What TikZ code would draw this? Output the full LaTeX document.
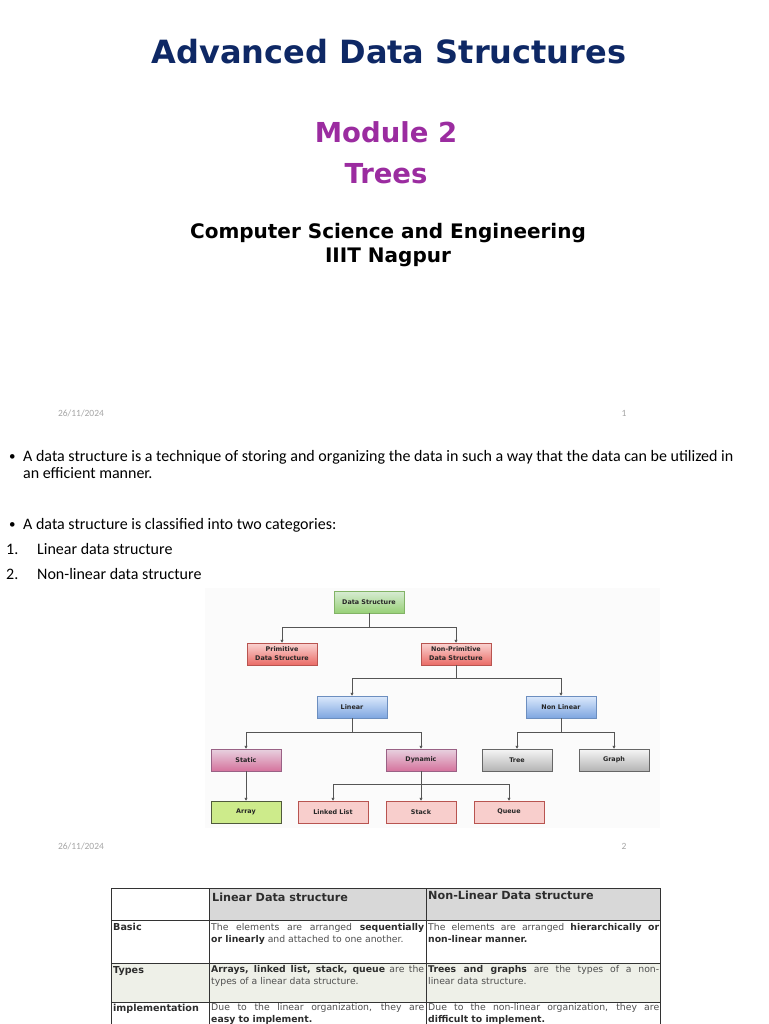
\documentclass[tikz,border=0pt]{standalone}
\usepackage{fontspec}
\setmainfont{Carlito}
\newfontfamily\dejavu{DejaVu Sans}
\usetikzlibrary{arrows.meta,shadows}

\definecolor{navy}{RGB}{14,40,101}
\definecolor{plum}{RGB}{155,44,160}
\definecolor{datefg}{RGB}{165,165,165}
\definecolor{edgefg}{RGB}{85,85,85}
\definecolor{hdrgray}{RGB}{216,216,216}
\definecolor{rowtint}{RGB}{238,240,232}
\definecolor{bodyfg}{RGB}{80,80,80}
\definecolor{boldfg}{RGB}{45,45,45}
% box colours
\definecolor{greenline}{RGB}{130,179,102}
\definecolor{greentop}{RGB}{216,236,212}
\definecolor{greenbot}{RGB}{151,208,119}
\definecolor{redline}{RGB}{184,84,80}
\definecolor{redtop}{RGB}{250,212,210}
\definecolor{redbot}{RGB}{234,107,102}
\definecolor{blueline}{RGB}{108,142,191}
\definecolor{bluetop}{RGB}{220,233,252}
\definecolor{bluebot}{RGB}{126,166,224}
\definecolor{pinkline}{RGB}{153,97,133}
\definecolor{pinktop}{RGB}{232,210,224}
\definecolor{pinkbot}{RGB}{213,115,157}
\definecolor{grayline}{RGB}{102,102,102}
\definecolor{graytop}{RGB}{246,246,246}
\definecolor{graybot}{RGB}{180,180,180}
\definecolor{limeline}{RGB}{80,90,60}
\definecolor{limefill}{RGB}{205,235,139}
\definecolor{salmonfill}{RGB}{248,206,204}

\newcommand{\hl}[1]{\textbf{\color{boldfg}#1}}

\tikzset{
  dsbox/.style={draw=#1, line width=0.5pt, minimum width=70pt, minimum height=22pt,
    inner sep=1pt, align=center, text=black!85,
    font=\dejavu\bfseries\fontsize{6.4}{9}\selectfont,
    drop shadow={shadow xshift=1.2pt, shadow yshift=-1.2pt, opacity=0.25}},
  greenbox/.style={dsbox=greenline, top color=greentop, bottom color=greenbot},
  redbox/.style={dsbox=redline, top color=redtop, bottom color=redbot},
  bluebox/.style={dsbox=blueline, top color=bluetop, bottom color=bluebot},
  pinkbox/.style={dsbox=pinkline, top color=pinktop, bottom color=pinkbot},
  graybox/.style={dsbox=grayline, top color=graytop, bottom color=graybot},
  limebox/.style={dsbox=limeline, fill=limefill},
  salmonbox/.style={dsbox=redline, fill=salmonfill},
  link/.style={draw=edgefg, line width=0.7pt, -{Triangle[length=3pt,width=3pt]}},
  bodytext/.style={anchor=base west, inner sep=0, font=\fontsize{16}{17}\selectfont},
  datetext/.style={inner sep=0, text=datefg, font=\fontsize{9.5}{11}\selectfont},
  cellhead/.style={anchor=base west, inner sep=0, text=boldfg, font=\dejavu\bfseries\fontsize{11.2}{13}\selectfont},
  celllabel/.style={anchor=base west, inner sep=0, text=boldfg, font=\dejavu\bfseries\fontsize{9.6}{12}\selectfont},
  cellbody/.style={anchor=north west, inner sep=0, align=justify, text=bodyfg, font=\dejavu\fontsize{9.3}{12}\selectfont},
  tblline/.style={draw=black!80, line width=0.9pt}
}

\begin{document}
\begin{tikzpicture}[x=1pt, y=-1pt]
\useasboundingbox[fill=white] (0,0) rectangle (768,1024);
\clip (0,0) rectangle (768,1024);

% title slide
\node[anchor=base, inner sep=0, text=navy, font=\dejavu\bfseries\fontsize{32}{38}\selectfont] (title) at (389,64) {Advanced Data Structures};
\node[anchor=base, inner sep=0, text=plum, font=\dejavu\bfseries\fontsize{27.5}{32}\selectfont] (module) at (386,143) {Module 2};
\node[anchor=base, inner sep=0, text=plum, font=\dejavu\bfseries\fontsize{27.5}{32}\selectfont] (trees) at (386,184) {Trees};
\node[anchor=base, inner sep=0, font=\dejavu\bfseries\fontsize{20}{24}\selectfont] (dept) at (388,238) {Computer Science and Engineering};
\node[anchor=base, inner sep=0, font=\dejavu\bfseries\fontsize{20}{24}\selectfont] (inst) at (388,262) {IIIT Nagpur};
\node[datetext] (date1) at (81,413) {26/11/2024};
\node[datetext] (page1) at (624,413) {1};

% second slide: text
\node[bodytext, font=\fontsize{13}{17}\selectfont] (dot1) at (9,460) {•};
\node[bodytext, align=left, anchor=north west] (def) at (23,450) {A data structure is a technique of storing and organizing the data in such a way that the data can be utilized in\\an efficient manner.};
\node[bodytext, font=\fontsize{13}{17}\selectfont] (dot2) at (9,528) {•};
\node[bodytext] (cls) at (23,529) {A data structure is classified into two categories:};
\node[bodytext] (n1) at (6,554) {1.};
\node[bodytext] (lin1) at (37,554) {Linear data structure};
\node[bodytext] (n2) at (6,579) {2.};
\node[bodytext] (lin2) at (37,579) {Non-linear data structure};

% classification diagram
\fill[black!1.5] (205,588) rectangle (660,828);
\node[greenbox] (ds) at (369,602) {Data Structure};
\node[redbox] (prim) at (282,654) {Primitive\\Data Structure};
\node[redbox] (nprim) at (456,654) {Non-Primitive\\Data Structure};
\node[bluebox] (lin) at (352,707) {Linear};
\node[bluebox] (nlin) at (561,707) {Non Linear};
\node[pinkbox] (stat) at (246,760) {Static};
\node[pinkbox] (dyn) at (421,760) {Dynamic};
\node[graybox] (tree) at (517,760) {Tree};
\node[graybox] (graph) at (614,760) {Graph};
\node[limebox] (arr) at (246,812) {Array};
\node[salmonbox] (ll) at (333,812) {Linked List};
\node[salmonbox] (stk) at (421,812) {Stack};
\node[salmonbox] (que) at (509,812) {Queue};

\draw[link] (ds.south) -- ++(0,14) -| (prim.north);
\draw[link] (ds.south) -- ++(0,14) -| (nprim.north);
\draw[link] (nprim.south) -- ++(0,13) -| (lin.north);
\draw[link] (nprim.south) -- ++(0,13) -| (nlin.north);
\draw[link] (lin.south) -- ++(0,14) -| (stat.north);
\draw[link] (lin.south) -- ++(0,14) -| (dyn.north);
\draw[link] (nlin.south) -- ++(0,14) -| (tree.north);
\draw[link] (nlin.south) -- ++(0,14) -| (graph.north);
\draw[link] (stat) -- (arr);
\draw[link] (dyn.south) -- ++(0,13) -| (ll.north);
\draw[link] (dyn) -- (stk);
\draw[link] (dyn.south) -- ++(0,13) -| (que.north);

\node[datetext] (date2) at (81,846) {26/11/2024};
\node[datetext] (page2) at (624,846) {2};

% comparison table
\fill[hdrgray] (209,888) rectangle (660,920);
\fill[rowtint] (111,963) rectangle (660,1002);
\draw[tblline] (111,1030) -- (111,888) -- (660,888) -- (660,1030);
\draw[tblline] (111,920) -- (660,920);
\draw[tblline] (111,963) -- (660,963);
\draw[tblline] (111,1002) -- (660,1002);
\draw[tblline] (209,888) -- (209,1030);
\draw[tblline] (426,888) -- (426,1030);

\node[cellhead] (h1) at (212,901.5) {Linear Data structure};
\node[cellhead] (h2) at (428,899.5) {Non-Linear Data structure};
\node[celllabel] (basic) at (113,930.5) {Basic};
\node[celllabel] (types) at (113,973) {Types};
\node[celllabel] (impl) at (113,1011.5) {implementation};
\node[cellbody, text width=213pt] (b1) at (211,923.5) {The elements are arranged \hl{sequentially}\linebreak\hl{or linearly} and attached to one another.};
\node[cellbody, text width=231pt] (b2) at (428,923.5) {The elements are arranged \hl{hierarchically or}\linebreak\hl{non-linear manner.}};
\node[cellbody, text width=213pt] (t1) at (211,965.5) {\hl{Arrays, linked list, stack, queue} are the\linebreak types of a linear data structure.};
\node[cellbody, text width=231pt] (t2) at (428,965.5) {\hl{Trees and graphs} are the types of a non-\linebreak linear data structure.};
\node[cellbody, text width=213pt] (i1) at (211,1003.5) {Due to the linear organization, they are\linebreak\hl{easy to implement.}};
\node[cellbody, text width=231pt] (i2) at (428,1003.5) {Due to the non-linear organization, they are\linebreak\hl{difficult to implement.}};
\end{tikzpicture}
\end{document}
